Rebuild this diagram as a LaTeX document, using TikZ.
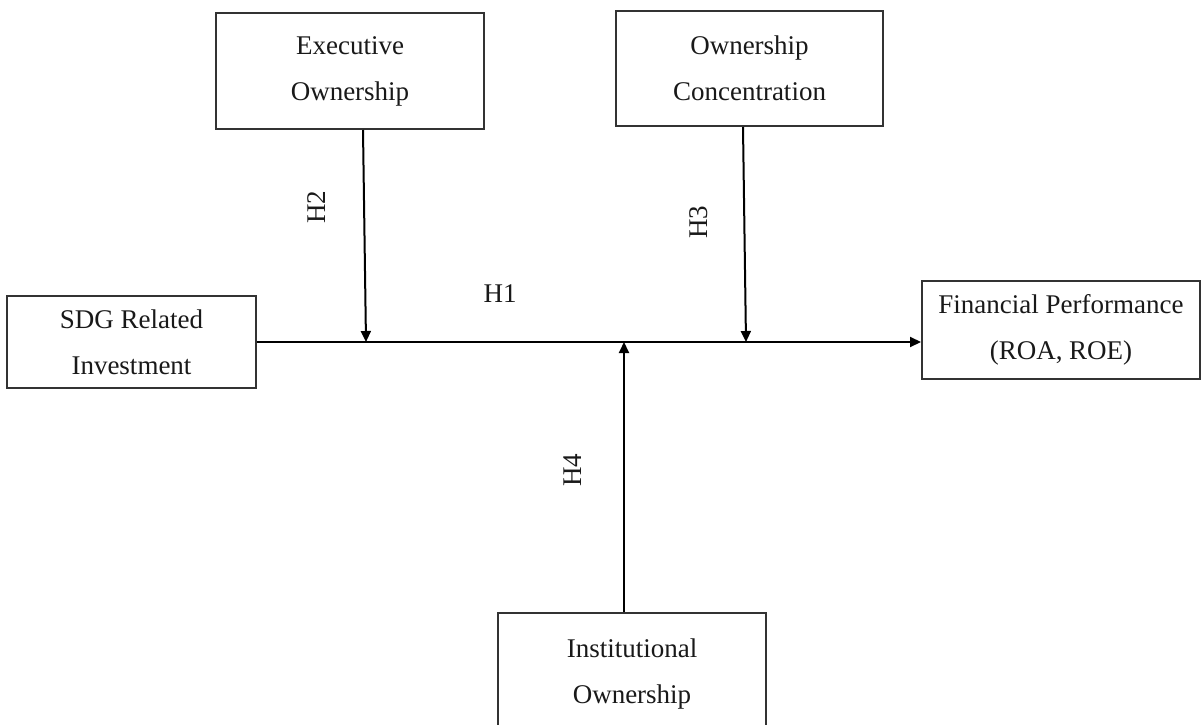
\documentclass[tikz,border=0pt]{standalone}
\usepackage{fontspec}
\setmainfont{Liberation Serif}
\usetikzlibrary{arrows.meta,calc}
\begin{document}
\begin{tikzpicture}[x=1pt,y=-1pt,
  box/.style={draw=black!80, line width=2pt, fill=white, align=center, inner sep=0pt,
    font=\fontsize{27}{46}\selectfont, text=black!90},
  conn/.style={draw=black, line width=2pt, -{Triangle[length=11pt,width=10pt]}},
  hlab/.style={font=\fontsize{27}{32}\selectfont, text=black!90, inner sep=0pt}]
\useasboundingbox (0,0) rectangle (1202,725);
\node[box, minimum width=268pt, minimum height=116pt] (exec) at (350,71) {Executive\\Ownership};
\node[box, minimum width=267pt, minimum height=115pt] (conc) at (749.5,68.5) {Ownership\\Concentration};
\node[box, minimum width=249pt, minimum height=92pt] (sdg) at (131.5,342) {SDG Related\\Investment};
\node[box, minimum width=278pt, minimum height=98pt] (fin) at (1061,330) {Financial Performance\\(ROA, ROE)};
\node[box, minimum width=268pt, minimum height=122pt] (inst) at (632,674) {Institutional\\Ownership};
\coordinate (m2) at (366,342);
\coordinate (m3) at (746,342);
\coordinate (m4) at (624,342);
\draw[conn] (sdg.east) -- (sdg.east -| fin.west);
\draw[conn] ([xshift=-3pt]exec.south -| m2) -- (m2);
\draw[conn] ([xshift=-3pt]conc.south -| m3) -- (m3);
\draw[conn] (inst.north -| m4) -- (m4);
\node[hlab] (h1) at (500,294) {H1};
\node[hlab, rotate=90] (h2) at (317,207) {H2};
\node[hlab, rotate=90] (h3) at (699,222) {H3};
\node[hlab, rotate=90] (h4) at (573,470) {H4};
\end{tikzpicture}
\end{document}
